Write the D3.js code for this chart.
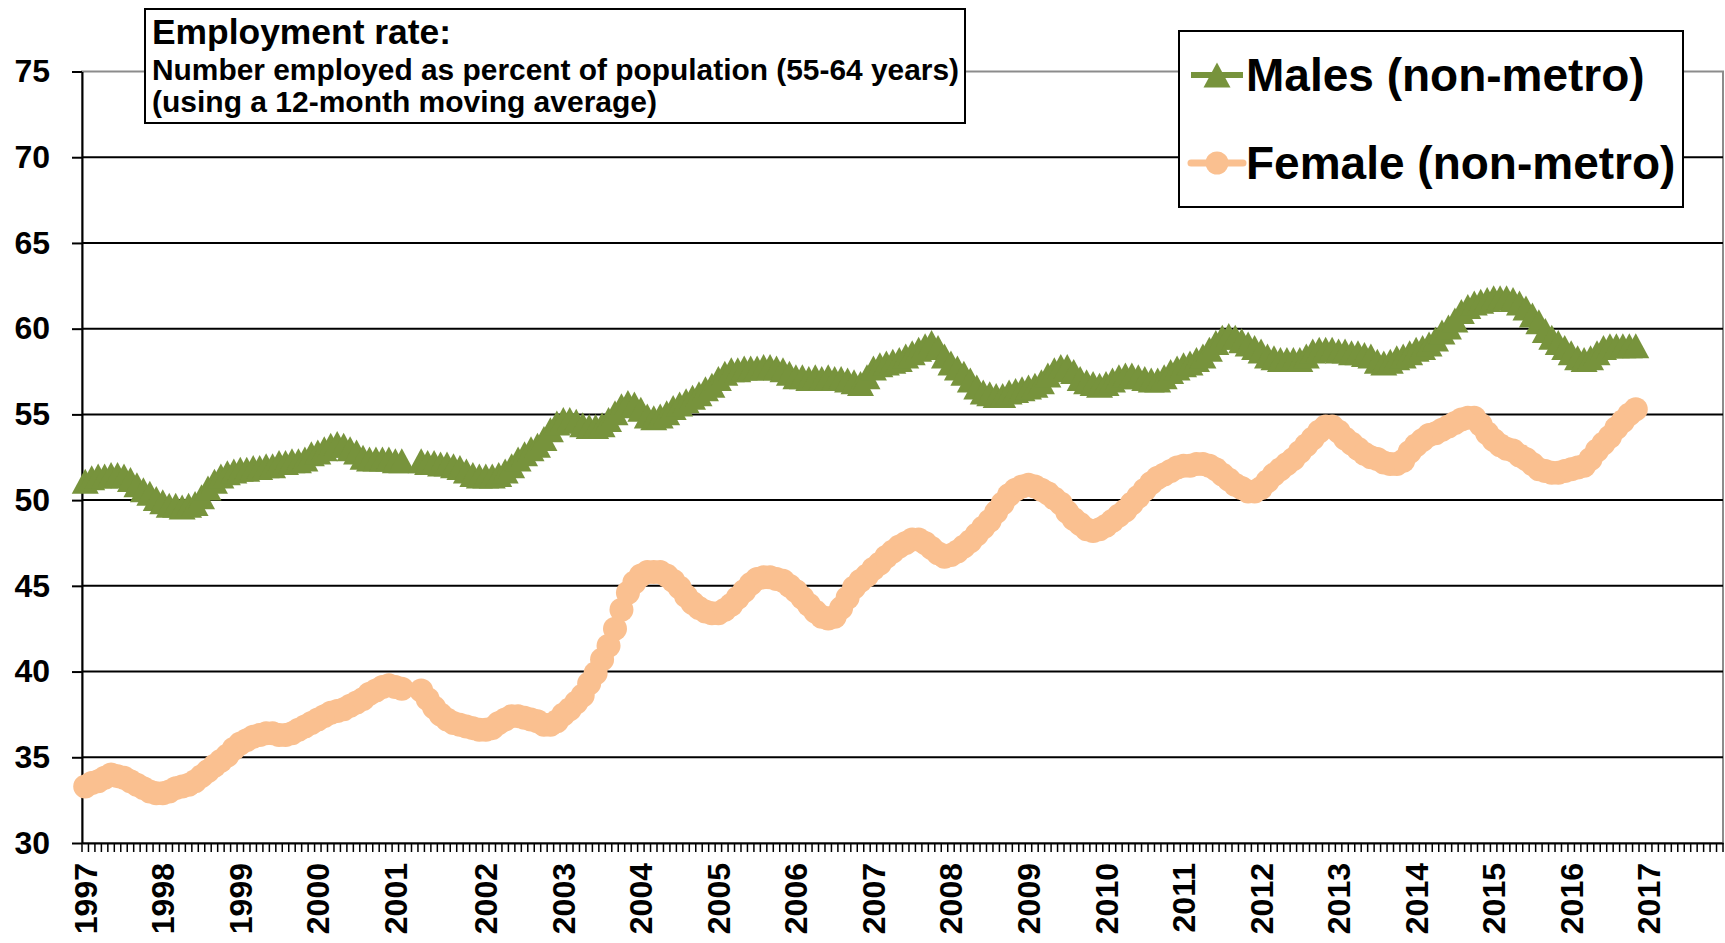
<!DOCTYPE html>
<html>
<head>
<meta charset="utf-8">
<script src="https://cdn.jsdelivr.net/npm/d3@7"></script>
<style>
  body { margin: 0; background: #fff; }
  text { font-family: "Liberation Sans", Arial, sans-serif; font-weight: bold; fill: #000; }
</style>
</head>
<body>
<div id="chart"></div>
<script>
// monthly categories, Jan 1997 .. ; two blank rows after Feb 2001
const nCats = 254;
const years = ["1997","1998","1999","2000","2001","2002","2003","2004","2005","2006","2007",
               "2008","2009","2010","2011","2012","2013","2014","2015","2016","2017"];
const yearCat = [0,12,24,36,48,62,74,86,98,110,122,134,146,158,170,182,194,206,218,230,242];
const yTicks = [30,35,40,45,50,55,60,65,70,75];
const seriesNames = ["Males (non-metro)", "Female (non-metro)"];

const males = [
  51.1,51.3,51.4,51.4,51.5,51.5,51.4,51.2,50.9,50.6,
  50.4,50.1,49.9,49.7,49.7,49.6,49.7,49.8,50.2,50.7,
  51.1,51.4,51.6,51.7,51.8,51.8,51.9,51.9,52.0,52.0,
  52.2,52.2,52.3,52.3,52.4,52.7,52.8,53.0,53.2,53.3,
  53.2,53.0,52.8,52.5,52.4,52.4,52.4,52.4,52.3,52.3,
  null,null,52.3,52.2,52.2,52.1,52.1,52.0,51.9,51.7,
  51.5,51.4,51.4,51.4,51.5,51.7,52.0,52.4,52.7,53.0,
  53.2,53.6,54.1,54.5,54.7,54.7,54.6,54.4,54.3,54.3,
  54.4,54.7,55.1,55.5,55.7,55.6,55.3,54.9,54.8,54.9,
  55.1,55.4,55.6,55.8,56.0,56.2,56.5,56.7,57.1,57.4,
  57.6,57.6,57.7,57.7,57.7,57.8,57.8,57.7,57.6,57.4,
  57.2,57.2,57.1,57.2,57.1,57.2,57.1,57.1,57.0,56.9,
  56.8,57.2,57.7,57.9,58.0,58.1,58.2,58.4,58.6,58.8,
  59.0,59.2,58.9,58.4,58.0,57.7,57.4,57.0,56.6,56.3,
  56.2,56.1,56.1,56.3,56.4,56.5,56.6,56.7,56.9,57.3,
  57.6,57.8,57.8,57.5,57.1,56.9,56.8,56.7,56.8,57.0,
  57.2,57.3,57.3,57.2,57.1,57.0,57.0,57.2,57.5,57.7,
  57.9,58.0,58.2,58.4,58.8,59.2,59.5,59.6,59.5,59.3,
  59.1,58.9,58.7,58.4,58.3,58.2,58.2,58.2,58.2,58.4,
  58.7,58.8,58.8,58.8,58.7,58.7,58.6,58.6,58.5,58.4,
  58.1,58.0,58.1,58.3,58.4,58.6,58.8,58.9,59.1,59.4,
  59.8,60.1,60.5,61.0,61.3,61.5,61.6,61.7,61.8,61.8,
  61.8,61.7,61.5,61.2,60.8,60.4,59.9,59.5,59.2,58.9,
  58.6,58.3,58.2,58.3,58.6,58.9,59.0,59.0,59.0,59.0,
  59.0
];

const females = [
  33.3,33.5,33.6,33.8,34.0,33.9,33.8,33.6,33.4,33.2,
  33.0,32.9,32.9,33.0,33.2,33.3,33.4,33.6,33.9,34.2,
  34.5,34.8,35.1,35.5,35.8,36.0,36.2,36.3,36.4,36.4,
  36.3,36.3,36.4,36.6,36.8,37.0,37.2,37.4,37.6,37.7,
  37.8,38.0,38.2,38.4,38.7,38.9,39.1,39.2,39.1,39.0,
  null,null,38.9,38.4,37.9,37.5,37.2,37.0,36.9,36.8,
  36.7,36.6,36.6,36.7,37.0,37.2,37.4,37.4,37.3,37.2,
  37.1,36.9,36.9,37.1,37.5,37.8,38.2,38.6,39.3,39.9,
  40.7,41.5,42.5,43.6,44.6,45.2,45.6,45.8,45.8,45.8,
  45.6,45.3,44.9,44.4,44.0,43.7,43.5,43.4,43.4,43.6,
  43.9,44.3,44.7,45.1,45.4,45.5,45.5,45.4,45.3,45.0,
  44.7,44.3,43.9,43.5,43.2,43.1,43.2,43.7,44.3,44.9,
  45.3,45.6,46.0,46.3,46.7,47.0,47.3,47.5,47.7,47.7,
  47.5,47.2,46.9,46.7,46.8,47.0,47.3,47.6,48.0,48.4,
  48.8,49.3,49.8,50.3,50.6,50.8,50.9,50.8,50.6,50.4,
  50.1,49.8,49.3,48.9,48.6,48.3,48.2,48.3,48.5,48.8,
  49.1,49.4,49.8,50.2,50.6,51.0,51.3,51.5,51.7,51.9,
  52.0,52.0,52.1,52.1,52.0,51.8,51.5,51.2,50.9,50.7,
  50.5,50.5,50.7,51.1,51.5,51.8,52.1,52.4,52.8,53.2,
  53.6,54.0,54.3,54.3,54.0,53.6,53.3,53.0,52.7,52.5,
  52.4,52.2,52.1,52.1,52.3,52.8,53.2,53.5,53.8,53.9,
  54.1,54.3,54.5,54.7,54.8,54.8,54.4,53.9,53.5,53.2,
  53.0,52.9,52.6,52.4,52.1,51.8,51.7,51.6,51.6,51.7,
  51.8,51.9,52.0,52.4,52.9,53.3,53.7,54.2,54.6,55.0,
  55.3
];

const W = 1725, H = 943;
const pLeft = 82, pRight = 1723, pTop = 71.5, pBottom = 843;
const green = "#77933C", peach = "#FAC090";

const svg = d3.select("#chart").append("svg")
  .attr("width", W).attr("height", H);

const x = d3.scaleBand().domain(d3.range(nCats)).range([pLeft, pRight]);
const y = d3.scaleLinear().domain([30, 75]).range([pBottom, pTop]);
const cx = i => x(i) + x.bandwidth() / 2;

// plot area border (grey), gridlines black
svg.append("rect")
  .attr("x", pLeft).attr("y", pTop)
  .attr("width", pRight - pLeft).attr("height", pBottom - pTop)
  .attr("fill", "none").attr("stroke", "#8c8c8c").attr("stroke-width", 2);

svg.append("g").selectAll("line")
  .data(yTicks.filter(t => t > 30 && t < 75))
  .join("line")
  .attr("x1", pLeft).attr("x2", pRight)
  .attr("y1", d => y(d)).attr("y2", d => y(d))
  .attr("stroke", "#000").attr("stroke-width", 2);

// y axis
const yAxis = svg.append("g")
  .attr("transform", `translate(${pLeft},0)`)
  .call(d3.axisLeft(y).tickValues(yTicks).tickSize(10).tickSizeOuter(0).tickPadding(22));
yAxis.select(".domain").attr("stroke", "#000").attr("stroke-width", 2);
yAxis.selectAll(".tick line").attr("stroke", "#000").attr("stroke-width", 2);
yAxis.selectAll("text").attr("font-size", 32).attr("font-family", null);

// x axis: month ticks on category edges, year labels
svg.append("g").selectAll("line")
  .data(d3.range(nCats + 1))
  .join("line")
  .attr("x1", i => i < nCats ? x(i) : pRight)
  .attr("x2", i => i < nCats ? x(i) : pRight)
  .attr("y1", pBottom).attr("y2", pBottom + 9)
  .attr("stroke", "#000").attr("stroke-width", 1.5);

const xAxis = svg.append("g")
  .attr("transform", `translate(0,${pBottom})`)
  .call(d3.axisBottom(x).tickValues(yearCat)
    .tickFormat(i => years[yearCat.indexOf(i)]).tickSize(0).tickSizeOuter(0));
xAxis.select(".domain").attr("stroke", "#000").attr("stroke-width", 2);
xAxis.selectAll("text")
  .attr("transform", "rotate(-90)")
  .attr("x", -20).attr("y", 0).attr("dy", "0.36em")
  .attr("text-anchor", "end")
  .attr("font-size", 32).attr("font-family", null);

// series
const line = d3.line()
  .defined(d => d != null)
  .x((d, i) => cx(i))
  .y(d => y(d));

const tri = (w, h) => `M0,${-h / 2}L${w / 2},${h / 2}L${-w / 2},${h / 2}Z`;

svg.append("path").datum(males)
  .attr("d", line).attr("fill", "none")
  .attr("stroke", green).attr("stroke-width", 5);
svg.append("g").selectAll("path")
  .data(males.map((v, i) => [i, v]).filter(d => d[1] != null))
  .join("path")
  .attr("transform", d => `translate(${cx(d[0])},${y(d[1])})`)
  .attr("d", tri(27, 25))
  .attr("fill", green);

svg.append("path").datum(females)
  .attr("d", line).attr("fill", "none")
  .attr("stroke", peach).attr("stroke-width", 10).attr("stroke-linejoin", "round");
svg.append("g").selectAll("circle")
  .data(females.map((v, i) => [i, v]).filter(d => d[1] != null))
  .join("circle")
  .attr("cx", d => cx(d[0])).attr("cy", d => y(d[1]))
  .attr("r", 12).attr("fill", peach);

// title box
const tb = svg.append("g");
tb.append("rect").attr("x", 145).attr("y", 9).attr("width", 820).attr("height", 114)
  .attr("fill", "#fff").attr("stroke", "#000").attr("stroke-width", 2);
tb.append("text").attr("x", 152).attr("y", 44).attr("font-size", 35)
  .attr("textLength", 299).attr("lengthAdjust", "spacingAndGlyphs")
  .text("Employment rate:");
tb.append("text").attr("x", 152).attr("y", 80).attr("font-size", 29)
  .attr("textLength", 807).attr("lengthAdjust", "spacingAndGlyphs")
  .text("Number employed as percent of population (55-64 years)");
tb.append("text").attr("x", 152).attr("y", 112).attr("font-size", 29)
  .attr("textLength", 505).attr("lengthAdjust", "spacingAndGlyphs")
  .text("(using a 12-month moving average)");

// legend
const lg = svg.append("g");
lg.append("rect").attr("x", 1179).attr("y", 31).attr("width", 504).attr("height", 176)
  .attr("fill", "#fff").attr("stroke", "#000").attr("stroke-width", 2);
const rows = [75, 163];
lg.append("line").attr("x1", 1191).attr("x2", 1243).attr("y1", rows[0]).attr("y2", rows[0])
  .attr("stroke", green).attr("stroke-width", 6);
lg.append("path").attr("transform", `translate(1217,${rows[0]})`).attr("d", tri(27, 25)).attr("fill", green);
lg.append("line").attr("x1", 1191).attr("x2", 1243).attr("y1", rows[1]).attr("y2", rows[1])
  .attr("stroke", peach).attr("stroke-width", 7).attr("stroke-linecap", "round");
lg.append("circle").attr("cx", 1217).attr("cy", rows[1]).attr("r", 11.5).attr("fill", peach);
lg.selectAll("text.lab").data(seriesNames).join("text")
  .attr("class", "lab")
  .attr("x", 1246).attr("y", (d, i) => rows[i] + 16)
  .attr("font-size", 46)
  .text(d => d);
</script>
</body>
</html>
